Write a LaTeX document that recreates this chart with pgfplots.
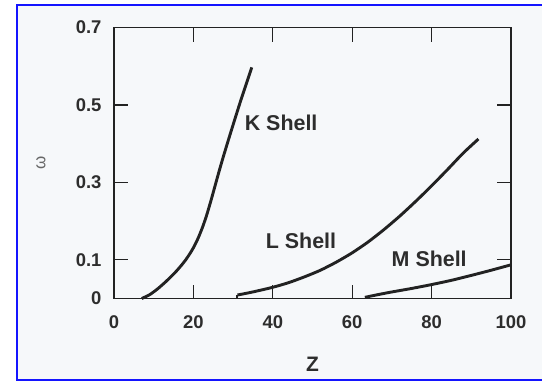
\documentclass[border=0pt]{standalone}
\usepackage{fontspec}
\setmainfont{Liberation Sans}
\usepackage{pgfplots}
\pgfplotsset{compat=1.18}

\definecolor{framecol}{RGB}{20,20,255}
\definecolor{paper}{RGB}{246,248,250}
\definecolor{ink}{RGB}{34,34,34}
\definecolor{txt}{RGB}{45,45,45}

% fluorescence yield omega against atomic number Z
\pgfplotstableread{
Z      w
7.0    0.000
9.0    0.010
11.0   0.025
13.0   0.043
15.0   0.063
16.0   0.074
17.0   0.086
18.0   0.099
19.0   0.114
20.0   0.131
21.2   0.156
22.3   0.184
23.3   0.214
24.4   0.252
25.4   0.289
26.4   0.326
27.5   0.365
28.8   0.409
30.1   0.452
31.2   0.488
32.2   0.520
33.5   0.560
34.7   0.597
}\kshell

\pgfplotstableread{
Z      w
31.1   0.009
35.0   0.017
40.0   0.029
44.0   0.041
48.0   0.056
52.0   0.073
56.0   0.094
60.0   0.118
64.0   0.146
68.0   0.178
72.0   0.213
76.0   0.251
80.0   0.291
84.0   0.333
88.0   0.376
91.8   0.412
}\lshell

\pgfplotstableread{
Z      w
63.2   0.003
66.0   0.009
69.5   0.016
75.0   0.026
80.0   0.036
85.0   0.047
90.5   0.061
95.0   0.073
100.0  0.087
}\mshell

\begin{document}
\begin{tikzpicture}
% page background and blue frame
\fill[white] (-114bp,-82.5bp) rectangle (428bp,298.5bp);
\fill[paper] (-97bp,-81.5bp) rectangle (440bp,293.5bp);
\draw[framecol, line width=2.5bp] (440bp,293.5bp) -- (-97bp,293.5bp) -- (-97bp,-81.5bp) -- (440bp,-81.5bp);

\begin{axis}[
  at={(0,0)}, anchor=origin,
  scale only axis,
  width=397bp, height=271bp,
  xmin=0, xmax=100, ymin=0, ymax=0.7,
  axis line style={ink, line width=1.8bp},
  xtick={0,20,40,60,80,100},
  ytick={0,0.1,0.3,0.5,0.7},
  tick align=inside,
  major tick length=14bp,
  tick style={ink, line width=1.2bp},
  /pgf/number format/assume math mode=true,
  tick label style={font=\fontsize{18.5}{18.5}\selectfont\bfseries, text=txt},
  yticklabel style={inner sep=0pt, anchor=east, xshift=-12.3bp},
  xticklabel style={inner sep=0pt, anchor=north, yshift=-16.5bp},
  xlabel={Z},
  xlabel style={font=\fontsize{21}{21}\selectfont\bfseries, text=txt,
    at={(axis description cs:0.5,0)}, anchor=center, yshift=-65.5bp},
  ylabel={ω},
  ylabel style={font=\fontsize{17}{17}\selectfont, text=black!60,
    at={(axis description cs:0,0.5)}, anchor=center, yshift=73bp},
  clip=false,
]
\addplot[ink, line width=2.9bp, smooth, tension=0.4] table[x=Z,y=w] {\kshell};
\addplot[ink, line width=2.9bp, smooth, tension=0.4] table[x=Z,y=w] {\lshell};
\addplot[ink, line width=2.0bp] coordinates {(31.1,0) (31.1,0.010)};
\addplot[ink, line width=2.9bp, smooth, tension=0.4] table[x=Z,y=w] {\mshell};

\node[text=txt, font=\fontsize{21.5}{21.5}\selectfont\bfseries] at (axis cs:42.1,0.455) {K Shell};
\node[text=txt, font=\fontsize{21.5}{21.5}\selectfont\bfseries] at (axis cs:47.1,0.149) {L Shell};
\node[text=txt, font=\fontsize{21.5}{21.5}\selectfont\bfseries] at (axis cs:79.4,0.102) {M Shell};
\end{axis}

\pgfresetboundingbox
\path[use as bounding box] (-114bp,-82.5bp) rectangle (428bp,298.5bp);
\end{tikzpicture}
\end{document}
